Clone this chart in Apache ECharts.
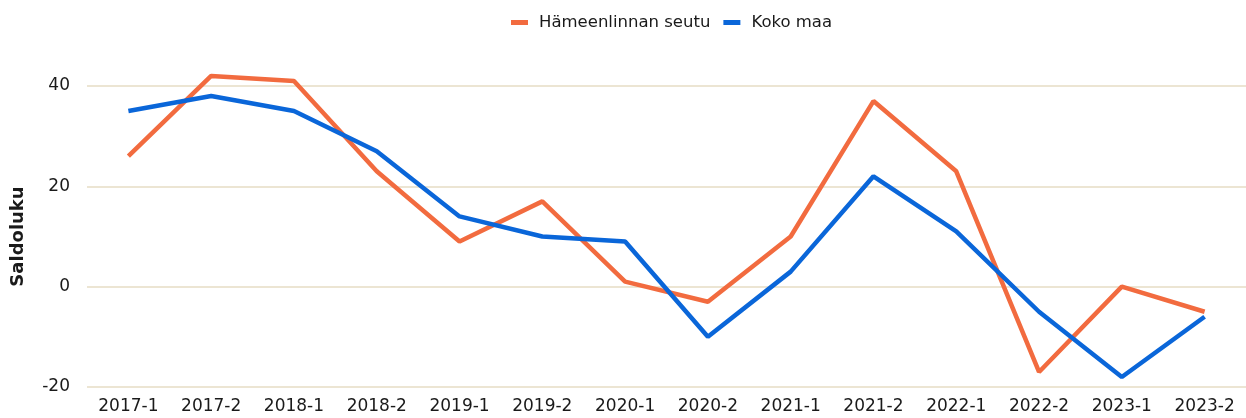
<!DOCTYPE html>
<html>
<head>
<meta charset="utf-8">
<script src="https://cdn.jsdelivr.net/npm/echarts@6/dist/echarts.min.js"></script>
<style>
  html, body { margin: 0; padding: 0; background: #fff; }
  #main { width: 1246px; height: 418px; }
</style>
</head>
<body>
<div id="main"></div>
<script>
// kaudet (x-akseli)
var kaudet = ["2017-1", "2017-2", "2018-1", "2018-2", "2019-1", "2019-2", "2020-1",
  "2020-2", "2021-1", "2021-2", "2022-1", "2022-2", "2023-1", "2023-2"];
// saldoluvut
var hameenlinna = [26, 42, 41, 23, 9, 17, 1, -3, 10, 37, 23, -17, 0, -5];
var kokoMaa = [35, 38, 35, 27, 14, 10, 9, -10, 3, 22, 11, -5, -18, -6];

var fontti = "DejaVu Sans";

var chart = echarts.init(document.getElementById("main"));
chart.setOption({
  animation: false,
  grid: { left: 87, right: 0, top: 86, bottom: 31, containLabel: false },
  legend: {
    top: 9,
    left: 506,
    itemWidth: 17,
    itemHeight: 5,
    itemGap: 13,
    icon: "rect",
    textStyle: { fontFamily: fontti, fontSize: 16.5, color: "#1a1a1a", padding: [0, 0, 0, 6] },
    data: ["Hämeenlinnan seutu", "Koko maa"]
  },
  xAxis: {
    type: "category",
    data: kaudet,
    boundaryGap: true,
    axisLine: { show: false },
    axisTick: { show: false },
    axisLabel: { interval: 0, margin: 11, fontFamily: fontti, fontSize: 17, color: "#1a1a1a" }
  },
  yAxis: {
    type: "value",
    min: -20,
    max: 40,
    interval: 20,
    name: "Saldoluku",
    nameLocation: "middle",
    nameGap: 60,
    nameTextStyle: { fontFamily: fontti, fontSize: 18, fontWeight: "bold", color: "#1a1a1a" },
    axisLabel: { margin: 17, fontFamily: fontti, fontSize: 17, color: "#1a1a1a" },
    splitLine: { lineStyle: { color: "#e6dcc4", width: 1.5 } }
  },
  series: [
    {
      name: "Hämeenlinnan seutu",
      type: "line",
      data: hameenlinna,
      clip: false,
      showSymbol: false,
      symbol: "none",
      color: "#f26b3f",
      lineStyle: { width: 4.5, color: "#f26b3f" }
    },
    {
      name: "Koko maa",
      type: "line",
      data: kokoMaa,
      clip: false,
      showSymbol: false,
      symbol: "none",
      color: "#0a66d9",
      lineStyle: { width: 4.5, color: "#0a66d9" }
    }
  ]
});
</script>
</body>
</html>
